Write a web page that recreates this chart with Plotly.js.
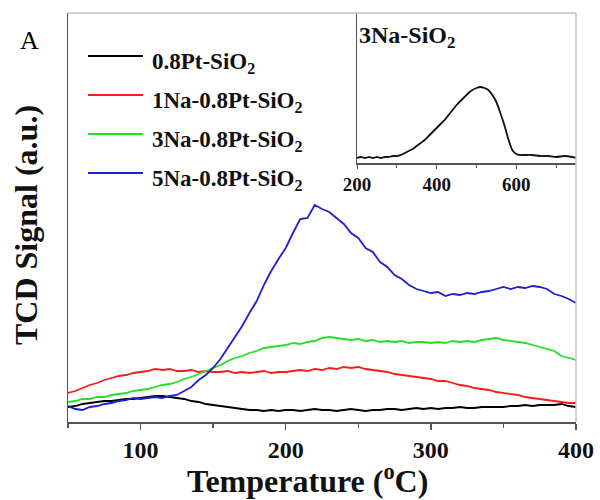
<!DOCTYPE html>
<html>
<head>
<meta charset="utf-8">
<script src="https://cdn.plot.ly/plotly-3.0.1.min.js"></script>
<style>html,body{margin:0;padding:0;background:#fff;}#chart{width:600px;height:500px;}</style>
</head>
<body>
<div id="chart"></div>
<script>
// ---- data ----
const temperature = [
  50,55,60,65,70,75,80,85,90,95,
  100,105,110,115,120,125,130,135,140,145,
  150,155,160,165,170,175,180,185,190,195,
  200,205,210,215,220,225,230,235,240,245,
  250,255,260,265,270,275,280,285,290,295,
  300,305,310,315,320,325,330,335,340,345,
  350,355,360,365,370,375,380,385,390,395,
  400];
const signal_08Pt = [
  15,16,18,19,20,21,21,22,23,23,
  24,25,26,26,25,24,23,21,20,18,
  17,16,15,14,13,12,12,11,12,11,
  12,12,11,12,13,12,12,11,12,13,
  12,11,12,12,13,13,12,13,14,13,
  14,13,14,14,15,14,14,15,15,15,
  15,16,16,17,16,17,17,17,18,16,
  15];
const signal_1Na = [
  29,31,34,37,39,42,44,46,47,49,
  50,51,53,52,53,51,51,52,50,51,
  50,50,51,49,50,49,50,51,49,50,
  50,51,52,51,53,52,54,53,55,54,
  55,53,52,51,50,48,47,46,45,44,
  43,41,41,39,37,36,34,33,32,30,
  29,28,27,25,24,23,22,21,20,19,
  19];
const signal_3Na = [
  20,21,23,23,25,25,27,28,29,31,
  32,33,35,37,38,40,43,45,48,51,
  54,57,61,64,66,69,71,74,75,76,
  77,79,78,80,81,84,85,84,83,82,
  83,81,82,80,81,80,81,79,80,80,
  79,80,79,81,80,81,80,82,83,84,
  82,81,80,79,77,75,73,71,66,64,
  62];
const signal_5Na = [
  16,13,12,15,16,18,19,21,22,24,
  23,24,25,24,26,27,31,35,42,47,
  54,63,74,85,96,109,121,137,151,163,
  174,189,203,204,217,213,210,204,198,189,
  184,174,170,160,155,147,143,137,133,131,
  129,130,126,128,127,129,128,130,131,133,
  135,133,135,134,136,135,133,128,126,123,
  119];
const seriesNames = ["0.8Pt-SiO<sub>2</sub>", "1Na-0.8Pt-SiO<sub>2</sub>", "3Na-0.8Pt-SiO<sub>2</sub>", "5Na-0.8Pt-SiO<sub>2</sub>"];
const xTickVals = [100, 200, 300, 400];
const xMinorTickVals = [50, 150, 250, 350];

const insetTemperature = [
  200,210,220,230,240,250,260,270,280,290,
  300,310,320,330,340,350,360,370,380,390,
  400,410,420,430,440,450,460,470,480,490,
  500,510,520,530,540,550,560,570,580,590,
  600,610,620,640,660,680,700,720,740,750];
const insetSignal = [
  5,6,5,6,5,6,5,6,6,7,
  7,8,10,12,14,17,20,23,27,31,
  35,39,43,48,53,58,62,66,70,73,
  75,76,75,73,68,61,50,38,24,13,
  9,8,8,8,7,7,6,7,6,5];
const insetName = "3Na-SiO<sub>2</sub>";
const insetTickVals = [200, 400, 600];
const insetMinorTickVals = [300, 500, 700];

// ---- styles / positions ----
const colors = ["#000000", "#ff1a1a", "#22e022", "#1f1fd0"];
const series = [signal_08Pt, signal_1Na, signal_3Na, signal_5Na];
const L = 68, R = 576, T = 13, B = 422;
const px = x => (x - L) / (R - L);
const py = y => (B - y) / (B - T);
const FONT = "Liberation Serif";

const traces = series.map((s, i) => ({
  x: temperature, y: s, type: "scatter", mode: "lines", name: seriesNames[i],
  line: {color: colors[i], width: 1.8, shape: "linear"}, xaxis: "x", yaxis: "y", showlegend: false
}));
traces.push({
  x: insetTemperature, y: insetSignal, type: "scatter", mode: "lines", name: insetName,
  line: {color: "#111", width: 1.8, shape: "spline", smoothing: 0.6}, xaxis: "x2", yaxis: "y2", showlegend: false
});

const legendY = [56, 95, 134, 173];
const shapes = [
  {type: "line", xref: "paper", yref: "paper", x0: 0, x1: 1, y0: 1, y1: 1, line: {color: "#c4c4c4", width: 1.5}},
  {type: "line", xref: "paper", yref: "paper", x0: 1, x1: 1, y0: 0, y1: 1, line: {color: "#c4c4c4", width: 1.5}}
];
const annotations = [];
legendY.forEach((ly, i) => {
  shapes.push({type: "line", xref: "paper", yref: "paper", x0: px(88), x1: px(143), y0: py(ly), y1: py(ly),
    line: {color: colors[i], width: 1.8}});
  annotations.push({xref: "paper", yref: "paper", x: px(150), y: py(ly + 7), xanchor: "left", yanchor: "middle",
    text: "<b>" + seriesNames[i] + "</b>", showarrow: false, font: {family: FONT, size: 23, color: "#111"}});
});
annotations.push({xref: "paper", yref: "paper", x: px(29), y: py(40), xanchor: "center", yanchor: "middle",
  text: "A", showarrow: false, font: {family: FONT, size: 26, color: "#000"}});
annotations.push({xref: "paper", yref: "paper", x: px(307), y: py(479), xanchor: "center", yanchor: "middle",
  text: "<b>Temperature (<sup>o</sup>C)</b>", showarrow: false, font: {family: FONT, size: 32, color: "#111"}});
annotations.push({xref: "paper", yref: "paper", x: px(26), y: py(225), xanchor: "center", yanchor: "middle",
  text: "<b>TCD Signal (a.u.)</b>", textangle: -90, showarrow: false, font: {family: FONT, size: 32, color: "#111"}});
annotations.push({xref: "paper", yref: "paper", x: px(357), y: py(37), xanchor: "left", yanchor: "middle",
  text: "<b>" + insetName + "</b>", showarrow: false, font: {family: FONT, size: 24, color: "#111"}});

const layout = {
  width: 600, height: 500,
  margin: {l: L, r: 600 - R, t: T, b: 500 - B},
  paper_bgcolor: "#fff", plot_bgcolor: "#fff",
  font: {family: FONT, color: "#111"},
  showlegend: false,
  xaxis: {
    domain: [0, 1], range: [50, 400], tickvals: xTickVals, ticks: "outside", ticklen: 6, tickwidth: 1.5, tickcolor: "#555",
    minor: {tickvals: xMinorTickVals, ticks: "outside", ticklen: 4, tickwidth: 1.5, tickcolor: "#555"},
    showline: true, linecolor: "#555", linewidth: 1.5, showgrid: false, zeroline: false,
    tickfont: {family: FONT, size: 24, color: "#111", weight: "bold"}
  },
  yaxis: {
    domain: [0, 1], range: [0, 409], showticklabels: false, ticks: "", showline: true, linecolor: "#555", linewidth: 1.5,
    showgrid: false, zeroline: false
  },
  xaxis2: {
    domain: [px(357), 1], anchor: "y2", range: [200, 750], tickvals: insetTickVals, ticks: "outside", ticklen: 4, tickwidth: 1, tickcolor: "#555",
    minor: {tickvals: insetMinorTickVals, ticks: "outside", ticklen: 3, tickwidth: 1, tickcolor: "#555"},
    showline: true, linecolor: "#555", linewidth: 1.5, showgrid: false, zeroline: false,
    tickfont: {family: FONT, size: 19, color: "#111", weight: "bold"}
  },
  yaxis2: {
    domain: [py(163), 1], anchor: "x2", range: [0, 150], showticklabels: false, ticks: "", showline: true, linecolor: "#555", linewidth: 1.5,
    showgrid: false, zeroline: false
  },
  shapes: shapes,
  annotations: annotations
};

Plotly.newPlot("chart", traces, layout, {staticPlot: true, displayModeBar: false});
</script>
</body>
</html>
